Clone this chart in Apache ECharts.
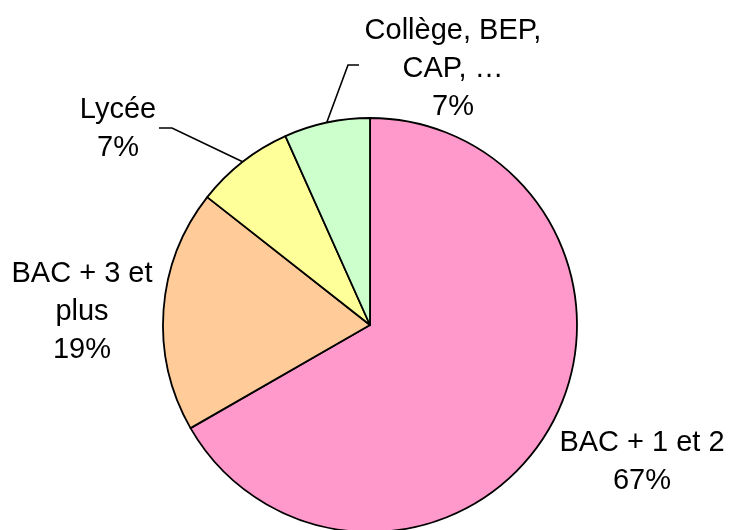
<!DOCTYPE html>
<html>
<head>
<meta charset="utf-8">
<script src="https://cdn.jsdelivr.net/npm/echarts@6/dist/echarts.min.js"></script>
<style>
  html, body { margin: 0; padding: 0; background: #fff; }
  #chart { width: 729px; height: 530px; }
</style>
</head>
<body>
<div id="chart"></div>
<script>
  // slices, clockwise from 12 o'clock
  const categories = ['BAC + 1 et 2', 'BAC + 3 et\nplus', 'Lycée', 'Collège, BEP,\nCAP, …'];
  const values = [66.7, 18.9, 7.7, 6.7];
  const shownPercent = [67, 19, 7, 7];
  const colors = ['#FF99CC', '#FFCC99', '#FFFF99', '#CCFFCC'];
  const hasLeader = [false, false, true, true];

  // label placement (layout only)
  const labelPos = [[642, 462], [82, 312], [118, 129], [453, 69]];
  const leaderTail = [null, null, [[172, 128], [159, 128]], [[348, 65], [359, 65]]];

  const chart = echarts.init(document.getElementById('chart'));
  chart.setOption({
    animation: false,
    series: [{
      type: 'pie',
      center: [370, 325],
      radius: 207,
      startAngle: 90,
      clockwise: true,
      avoidLabelOverlap: false,
      itemStyle: { borderColor: '#000', borderWidth: 1.8 },
      emphasis: { disabled: true },
      label: {
        show: true,
        color: '#000',
        fontFamily: 'Liberation Sans, Arial, sans-serif',
        fontSize: 29,
        lineHeight: 38,
        align: 'center',
        formatter: function (p) {
          return p.name + '\n' + shownPercent[p.dataIndex] + '%';
        }
      },
      labelLine: {
        show: true,
        length: 20,
        length2: 10,
        lineStyle: { color: '#000', width: 1.6 }
      },
      labelLayout: function (params) {
        const i = params.dataIndex;
        const out = {
          x: labelPos[i][0],
          y: labelPos[i][1],
          align: 'center',
          verticalAlign: 'middle'
        };
        if (hasLeader[i] && params.labelLinePoints) {
          out.labelLinePoints = [params.labelLinePoints[0]].concat(leaderTail[i]);
        }
        return out;
      },
      data: categories.map(function (c, i) {
        return {
          name: c,
          value: values[i],
          itemStyle: { color: colors[i] },
          labelLine: { show: hasLeader[i] }
        };
      })
    }]
  });
</script>
</body>
</html>
